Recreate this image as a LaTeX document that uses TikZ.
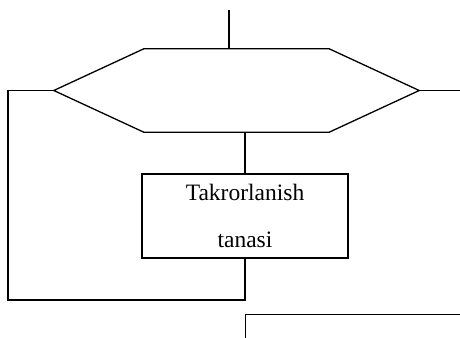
\documentclass[tikz,border=0pt]{standalone}
\usepackage{fontspec}
\setmainfont{Liberation Serif}
\usepackage{tikz}
\usetikzlibrary{positioning,calc}

\begin{document}
\begin{tikzpicture}[x=1pt, y=-1pt,
  line/.style={line width=1.3pt},
  cyclebox/.style={minimum width=365pt, minimum height=83pt, inner sep=0pt},
  bodybox/.style={draw, line width=1.3pt, minimum width=206pt, minimum height=84pt,
      font=\fontsize{23.5}{47}\selectfont, align=center}]

% frame
\useasboundingbox (0,0) rectangle (460,337);

% Loop header (hexagon)
\node[cyclebox] (hex) at (236.5,90.5) {};
\draw[line] (hex.west) -- ($(hex.north west)+(90,0)$) -- ($(hex.north east)+(-90,0)$)
  -- (hex.east) -- ($(hex.south east)+(-90,0)$) -- ($(hex.south west)+(90,0)$) -- cycle;
\coordinate (in) at (229,10);
\coordinate (out) at (462,90.5);

% Loop body
\node[bodybox] (body) at (245,216) {Takrorlanish\\tanasi};
\coordinate (back) at (8,300);

% Next block
\node[draw, line width=1.3pt, anchor=north west, minimum width=260pt, minimum height=60pt]
  (next) at (245,314) {};

% Connectors
\draw[line] (in) -- (in |- hex.north);
\draw[line] (hex.south -| body.north) -- (body.north);
\draw[line] (body.south) |- (back) |- (hex.west);
\draw[line] (hex.east) -- (out);

\end{tikzpicture}
\end{document}
